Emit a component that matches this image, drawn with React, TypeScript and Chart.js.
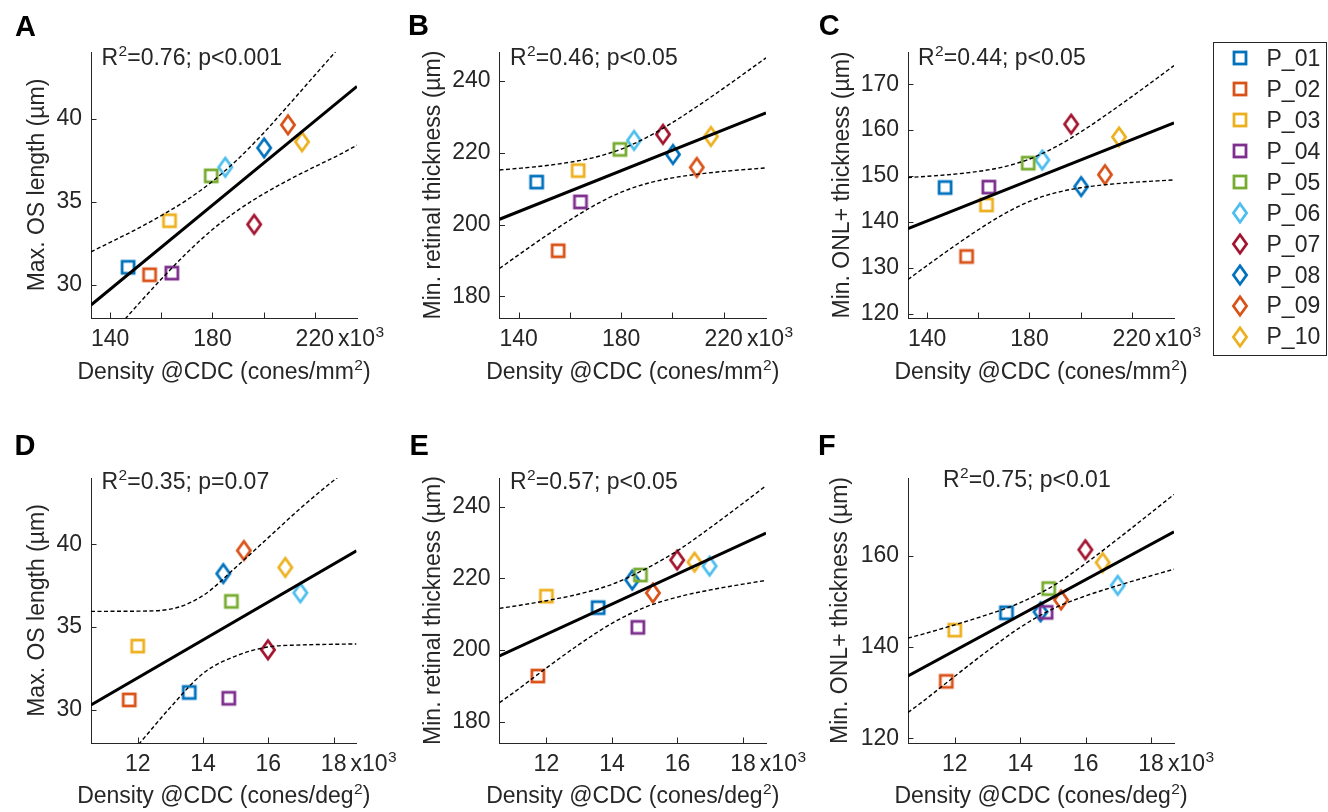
import React, { useEffect, useRef } from 'react';
import { Chart, registerables } from 'chart.js';

Chart.register(...registerables);

const FONT = "'Liberation Sans', Arial, Helvetica, sans-serif";
const INK = '#262626';
const FS = 23;
const SUP_FS = 15.5;
const SUP_RAISE = 6.8;
const TICK_LEN = 5.5;
const TICK_PAD = 7.5;

// ---------------- data ----------------
const participants = ['P_01', 'P_02', 'P_03', 'P_04', 'P_05', 'P_06', 'P_07', 'P_08', 'P_09', 'P_10'];
const markerColors = ['#0072BD', '#D95319', '#EDB120', '#7E2F8E', '#77AC30', '#4DBEEE', '#A2142F', '#0072BD', '#D95319', '#EDB120'];
const markerShapes = ['square', 'square', 'square', 'square', 'square', 'diamond', 'diamond', 'diamond', 'diamond', 'diamond'];

// cone density at CDC (x10^3)
const densityMm2 = [147.0, 155.4, 163.2, 164.1, 179.5, 185.0, 196.3, 200.2, 209.5, 215.0];
const densityDeg2 = [13.58, 11.74, 12.0, 14.79, 14.87, 16.98, 15.99, 14.62, 15.25, 16.52];

// retinal measures (µm)
const maxOsLength = [31.05, 30.6, 33.85, 30.7, 36.55, 37.07, 33.63, 38.23, 39.62, 38.6];
const minRetinalThickness = [211.8, 192.7, 215.0, 206.3, 220.9, 223.4, 225.1, 219.5, 215.9, 224.5];
const minOnlThickness = [147.5, 132.5, 143.7, 147.6, 152.8, 153.5, 161.3, 147.7, 150.3, 158.5];

// regression lines and confidence bounds
const fitLineXmm2 = [132.5, 236.5];
const fitLineXdeg2 = [10.57, 18.7];
const bandXmm2 = [132.5, 140, 150, 160, 170, 180, 190, 200, 210, 220, 230, 236.5];
const bandXdeg2 = [10.57, 11, 12, 13, 14, 15, 16, 17, 18, 18.7];

const osVsMm2Fit = [28.78, 41.93];
const osVsMm2Upper = [31.98, 32.55, 33.32, 34.16, 35.1, 36.22, 37.57, 39.13, 40.85, 42.6, 44.35, 45.5];
const osVsMm2Lower = [25.58, 26.91, 28.66, 30.34, 31.92, 33.32, 34.49, 35.47, 36.32, 37.1, 37.85, 38.4];

const retVsMm2Fit = [201.47, 231.06];
const retVsMm2Upper = [215.17, 215.63, 216.35, 217.33, 218.76, 220.99, 224.25, 228.38, 233.02, 237.95, 243.03, 246.38];
const retVsMm2Lower = [187.77, 191.59, 196.55, 201.27, 205.52, 208.99, 211.41, 212.98, 214.02, 214.79, 215.39, 215.74];

const onlVsMm2Fit = [138.58, 161.59];
const onlVsMm2Upper = [149.68, 149.94, 150.38, 151.01, 152.01, 153.7, 156.27, 159.58, 163.33, 167.28, 171.35, 174.04];
const onlVsMm2Lower = [127.48, 130.54, 134.52, 138.31, 141.73, 144.48, 146.33, 147.44, 148.13, 148.6, 148.95, 149.14];

const osVsDeg2Fit = [30.3, 39.61];
const osVsDeg2Upper = [35.95, 35.95, 35.96, 36.08, 36.9, 38.6, 40.4, 42.2, 43.85, 44.9];
const osVsDeg2Lower = [24.7, 25.6, 27.85, 30.15, 32.2, 33.25, 33.8, 33.92, 33.96, 33.98];

const retVsDeg2Fit = [198.3, 232.62];
const retVsDeg2Upper = [211.6, 212.18, 213.74, 215.6, 218.3, 222.5, 227.69, 234.13, 240.96, 245.84];
const retVsDeg2Lower = [185.26, 188.06, 194.94, 201.52, 207.42, 211.88, 214.75, 216.75, 218.36, 219.4];

const onlVsDeg2Fit = [133.7, 165.22];
const onlVsDeg2Upper = [141.96, 142.78, 144.87, 147.09, 149.7, 153.37, 158.3, 163.77, 169.41, 173.4];
const onlVsDeg2Lower = [125.68, 127.96, 133.61, 139.15, 144.3, 148.37, 151.2, 153.49, 155.61, 157.04];

// axes ticks and labels
const xTicksMm2 = [140, 160, 180, 200, 220];
const xLabelsMm2 = [140, 180, 220];
const xTicksDeg2 = [12, 14, 16, 18];
const xLabelsDeg2 = [12, 14, 16, 18];
const yTicksOs = [30, 35, 40];
const yTicksRet = [180, 200, 220, 240];
const yTicksOnlMm2 = [120, 130, 140, 150, 160, 170];
const yTicksOnlDeg2 = [120, 140, 160];
const xExponent = 'x10³';

const xTitleMm2 = 'Density @CDC (cones/mm²)';
const xTitleDeg2 = 'Density @CDC (cones/deg²)';
const yTitleOs = 'Max. OS length (µm)';
const yTitleRet = 'Min. retinal thickness (µm)';
const yTitleOnl = 'Min. ONL+ thickness (µm)';
const panelLetters = ['A', 'B', 'C', 'D', 'E', 'F'];
const statNotes = ['R²=0.76; p<0.001', 'R²=0.46; p<0.05', 'R²=0.44; p<0.05', 'R²=0.35; p=0.07', 'R²=0.57; p<0.05', 'R²=0.75; p<0.01'];

// ---------------- layout (page px) ----------------
const panels = [
  { x: densityMm2, y: maxOsLength, lineX: fitLineXmm2, line: osVsMm2Fit, bandX: bandXmm2, up: osVsMm2Upper, lo: osVsMm2Lower, xr: [132.5, 236.5], yr: [28, 44], xt: xTicksMm2, xl: xLabelsMm2, yt: yTicksOs, xTitle: xTitleMm2, yTitle: yTitleOs,
    cL: 0, cT: 0, w: 405, h: 387, axL: 91, axR: 357, axT: 52, axB: 318, yTitleX: 37.5, xTitleY: 372.5, noteX: 101.5, noteY: 58.5 },
  { x: densityMm2, y: minRetinalThickness, lineX: fitLineXmm2, line: retVsMm2Fit, bandX: bandXmm2, up: retVsMm2Upper, lo: retVsMm2Lower, xr: [132.5, 236.5], yr: [174, 248], xt: xTicksMm2, xl: xLabelsMm2, yt: yTicksRet, xTitle: xTitleMm2, yTitle: yTitleRet,
    cL: 405, cT: 0, w: 405, h: 387, axL: 499.5, axR: 766, axT: 52, axB: 318, yTitleX: 433.5, xTitleY: 372.5, noteX: 510, noteY: 58.5 },
  { x: densityMm2, y: minOnlThickness, lineX: fitLineXmm2, line: onlVsMm2Fit, bandX: bandXmm2, up: onlVsMm2Upper, lo: onlVsMm2Lower, xr: [132.5, 236.5], yr: [119.1, 177], xt: xTicksMm2, xl: xLabelsMm2, yt: yTicksOnlMm2, xTitle: xTitleMm2, yTitle: yTitleOnl,
    cL: 810, cT: 0, w: 405, h: 387, axL: 908, axR: 1174, axT: 52, axB: 318, yTitleX: 842.3, xTitleY: 372.5, noteX: 918, noteY: 58.5 },
  { x: densityDeg2, y: maxOsLength, lineX: fitLineXdeg2, line: osVsDeg2Fit, bandX: bandXdeg2, up: osVsDeg2Upper, lo: osVsDeg2Lower, xr: [10.57, 18.7], yr: [28, 44], xt: xTicksDeg2, xl: xLabelsDeg2, yt: yTicksOs, xTitle: xTitleDeg2, yTitle: yTitleOs,
    cL: 0, cT: 400, w: 405, h: 411, axL: 91, axR: 356.5, axT: 478, axB: 743, yTitleX: 37.5, xTitleY: 797, noteX: 101.5, noteY: 482.5 },
  { x: densityDeg2, y: minRetinalThickness, lineX: fitLineXdeg2, line: retVsDeg2Fit, bandX: bandXdeg2, up: retVsDeg2Upper, lo: retVsDeg2Lower, xr: [10.57, 18.7], yr: [174, 248], xt: xTicksDeg2, xl: xLabelsDeg2, yt: yTicksRet, xTitle: xTitleDeg2, yTitle: yTitleRet,
    cL: 405, cT: 400, w: 405, h: 411, axL: 499.5, axR: 766, axT: 478, axB: 743, yTitleX: 433.5, xTitleY: 797, noteX: 510, noteY: 482.5 },
  { x: densityDeg2, y: minOnlThickness, lineX: fitLineXdeg2, line: onlVsDeg2Fit, bandX: bandXdeg2, up: onlVsDeg2Upper, lo: onlVsDeg2Lower, xr: [10.57, 18.7], yr: [119, 177], xt: xTicksDeg2, xl: xLabelsDeg2, yt: yTicksOnlDeg2, xTitle: xTitleDeg2, yTitle: yTitleOnl,
    cL: 810, cT: 400, w: 405, h: 411, axL: 908, axR: 1174, axT: 478, axB: 743, yTitleX: 841, xTitleY: 797, noteX: 943, noteY: 481 },
];

const letterPos = [
  { left: 15, top: 12.3 }, { left: 408, top: 11.3 }, { left: 818.7, top: 11 },
  { left: 14.6, top: 431.3 }, { left: 409.6, top: 431.3 }, { left: 818, top: 430.5 },
];

// ---------------- helpers ----------------
function makeMarker(shape: string, color: string): HTMLCanvasElement {
  const c = document.createElement('canvas');
  const lw = 2.8;
  if (shape === 'square') {
    c.width = 18; c.height = 18;
    const g = c.getContext('2d')!;
    g.strokeStyle = color; g.lineWidth = lw; g.lineJoin = 'miter';
    g.strokeRect(3, 3, 12, 12);
  } else {
    c.width = 20; c.height = 26;
    const g = c.getContext('2d')!;
    g.strokeStyle = color; g.lineWidth = lw; g.lineJoin = 'miter';
    g.beginPath();
    g.moveTo(10, 13 - 9.2); g.lineTo(10 + 6.6, 13); g.lineTo(10, 13 + 9.2); g.lineTo(10 - 6.6, 13);
    g.closePath(); g.stroke();
  }
  return c;
}

type Seg = { t: string; sup: boolean };
function splitSup(text: string): Seg[] {
  const segs: Seg[] = [];
  for (const ch of text) {
    const sup = ch === '²' ? '2' : ch === '³' ? '3' : null;
    if (sup) segs.push({ t: sup, sup: true });
    else if (segs.length && !segs[segs.length - 1].sup) segs[segs.length - 1].t += ch;
    else segs.push({ t: ch, sup: false });
  }
  return segs;
}

// draws text with superscript digits (², ³) rendered like TeX superscripts
function drawRich(ctx: CanvasRenderingContext2D, text: string, x: number, y: number, align: 'left' | 'center') {
  const segs = splitSup(text);
  const widths = segs.map((s) => {
    ctx.font = `${s.sup ? SUP_FS : FS}px ${FONT}`;
    return ctx.measureText(s.t).width + (s.sup ? 0.5 : 0);
  });
  const total = widths.reduce((a, b) => a + b, 0);
  let cx = align === 'center' ? x - total / 2 : x;
  ctx.textAlign = 'left';
  ctx.textBaseline = 'middle';
  segs.forEach((s, i) => {
    ctx.font = `${s.sup ? SUP_FS : FS}px ${FONT}`;
    ctx.fillText(s.t, cx + (s.sup ? 0.5 : 0), s.sup ? y - SUP_RAISE : y);
    cx += widths[i];
  });
}

const extrasPlugin = {
  id: 'panelExtras',
  afterDraw(chart: any, _args: any, opts: any) {
    const { ctx, chartArea } = chart;
    const xs = chart.scales.x;
    const ys = chart.scales.y;
    ctx.save();
    // inward tick marks
    ctx.strokeStyle = INK;
    ctx.lineWidth = 1;
    for (const t of xs.ticks) {
      const px = Math.round(xs.getPixelForValue(t.value)) + 0.5;
      ctx.beginPath(); ctx.moveTo(px, chartArea.bottom); ctx.lineTo(px, chartArea.bottom - TICK_LEN); ctx.stroke();
    }
    for (const t of ys.ticks) {
      const py = Math.round(ys.getPixelForValue(t.value)) + 0.5;
      ctx.beginPath(); ctx.moveTo(chartArea.left, py); ctx.lineTo(chartArea.left + TICK_LEN, py); ctx.stroke();
    }
    ctx.fillStyle = INK;
    // exponent label next to last x tick label
    ctx.font = `${FS}px ${FONT}`;
    const last = xs.ticks[xs.ticks.length - 1];
    const lastW = ctx.measureText(String(last.value)).width;
    const ly = xs.top + TICK_PAD + (FS * 1.2) / 2;
    drawRich(ctx, opts.exponent, xs.getPixelForValue(last.value) + lastW / 2 + 4, ly, 'left');
    // statistics annotation
    drawRich(ctx, opts.text, opts.x, opts.y, 'left');
    // x axis title
    drawRich(ctx, opts.xTitle, (chartArea.left + chartArea.right) / 2, opts.xTitleY, 'center');
    // y axis title (rotated)
    ctx.save();
    ctx.translate(opts.yTitleX, (chartArea.top + chartArea.bottom) / 2);
    ctx.rotate(-Math.PI / 2);
    ctx.font = `${FS}px ${FONT}`;
    ctx.textAlign = 'center';
    ctx.textBaseline = 'middle';
    ctx.fillText(opts.yTitle, 0, 0);
    ctx.restore();
    ctx.restore();
  },
};

function Panel({ idx }: { idx: number }) {
  const ref = useRef<HTMLCanvasElement>(null);
  const p = panels[idx];
  useEffect(() => {
    const markers = participants.map((_, i) => makeMarker(markerShapes[i], markerColors[i]));
    const wy = p.axL - p.cL;
    const hx = p.cT + p.h - p.axB;
    const pointSets = participants.map((name, i) => ({
      label: name,
      data: [{ x: p.x[i], y: p.y[i] }],
      pointStyle: markers[i],
      pointRadius: 8,
      showLine: false,
      order: 2,
    }));
    const lineSet = {
      label: 'fit',
      data: p.lineX.map((v, i) => ({ x: v, y: p.line[i] })),
      showLine: true, borderColor: '#000', borderWidth: 3, pointRadius: 0, order: 1,
    };
    const bandSet = (vals: number[], name: string) => ({
      label: name,
      data: p.bandX.map((v, i) => ({ x: v, y: vals[i] })),
      showLine: true, borderColor: '#000', borderWidth: 1.4, borderDash: [4, 2.5],
      pointRadius: 0, cubicInterpolationMode: 'monotone', order: 1,
    });
    const chart = new Chart(ref.current!, {
      type: 'scatter',
      data: { datasets: [...pointSets, lineSet, bandSet(p.up, 'upper'), bandSet(p.lo, 'lower')] as any },
      options: {
        responsive: false,
        animation: false,
        events: [],
        layout: { padding: { left: 0, bottom: 0, top: p.axT - p.cT, right: p.cL + p.w - p.axR } },
        plugins: {
          legend: { display: false },
          tooltip: { enabled: false },
          panelExtras: {
            text: statNotes[idx], x: p.noteX - p.cL, y: p.noteY - p.cT,
            exponent: xExponent,
            xTitle: p.xTitle, xTitleY: p.xTitleY - p.cT,
            yTitle: p.yTitle, yTitleX: p.yTitleX - p.cL,
          },
        } as any,
        scales: {
          x: {
            type: 'linear', position: 'bottom', min: p.xr[0], max: p.xr[1],
            grid: { display: false, drawTicks: false, tickLength: 0 },
            border: { display: true, color: INK, width: 1 },
            afterBuildTicks: (ax: any) => { ax.ticks = p.xt.map((v) => ({ value: v })); },
            afterFit: (ax: any) => { ax.height = hx; },
            ticks: {
              autoSkip: false, maxRotation: 0, minRotation: 0, padding: TICK_PAD, color: INK,
              font: { family: FONT, size: FS },
              callback: (v: any) => (p.xl.includes(Number(v)) ? String(v) : ''),
            },
            title: { display: false },
          },
          y: {
            type: 'linear', position: 'left', min: p.yr[0], max: p.yr[1],
            grid: { display: false, drawTicks: false, tickLength: 0 },
            border: { display: true, color: INK, width: 1 },
            afterBuildTicks: (ax: any) => { ax.ticks = p.yt.map((v) => ({ value: v })); },
            afterFit: (ax: any) => { ax.width = wy; },
            ticks: {
              autoSkip: false, padding: 9, color: INK,
              font: { family: FONT, size: FS },
              callback: (v: any) => String(v),
            },
            title: { display: false },
          },
        },
      } as any,
      plugins: [extrasPlugin as any],
    });
    return () => chart.destroy();
  }, []);
  return (
    <canvas
      ref={ref}
      width={p.w}
      height={p.h}
      style={{ position: 'absolute', left: p.cL, top: p.cT, width: p.w, height: p.h }}
    />
  );
}

function LegendMarker({ i }: { i: number }) {
  const color = markerColors[i];
  if (markerShapes[i] === 'square') {
    return (
      <svg width={18} height={18} style={{ position: 'absolute', left: -9, top: -9 }}>
        <rect x={3} y={3} width={12} height={12} fill="none" stroke={color} strokeWidth={2.8} />
      </svg>
    );
  }
  return (
    <svg width={20} height={26} style={{ position: 'absolute', left: -10, top: -13 }}>
      <polygon points="10,3.8 16.6,13 10,22.2 3.4,13" fill="none" stroke={color} strokeWidth={2.8} />
    </svg>
  );
}

export default function App() {
  const legendTop = 42;
  const rowY0 = 58.3;
  const rowStep = 30.93;
  return (
    <div style={{ position: 'absolute', left: 0, top: 0, width: 1328, height: 812, background: '#fff', overflow: 'hidden', fontFamily: FONT }}>
      {panels.map((_, i) => <Panel key={i} idx={i} />)}
      {panelLetters.map((l, i) => (
        <div key={l} style={{ position: 'absolute', left: letterPos[i].left, top: letterPos[i].top, font: `bold 29px ${FONT}`, lineHeight: '29px', color: '#000' }}>{l}</div>
      ))}
      <div style={{ position: 'absolute', left: 1213, top: legendTop, width: 114, height: 314, border: `1px solid ${INK}`, boxSizing: 'border-box' }} />
      {participants.map((name, i) => {
        const yc = rowY0 + i * rowStep;
        return (
          <React.Fragment key={name}>
            <div style={{ position: 'absolute', left: 1240, top: yc, width: 0, height: 0 }}>
              <LegendMarker i={i} />
            </div>
            <div style={{ position: 'absolute', left: 1266.5, top: yc - 11.3, font: `${FS}px ${FONT}`, lineHeight: `${FS}px`, color: INK, whiteSpace: 'nowrap' }}>{name}</div>
          </React.Fragment>
        );
      })}
    </div>
  );
}
